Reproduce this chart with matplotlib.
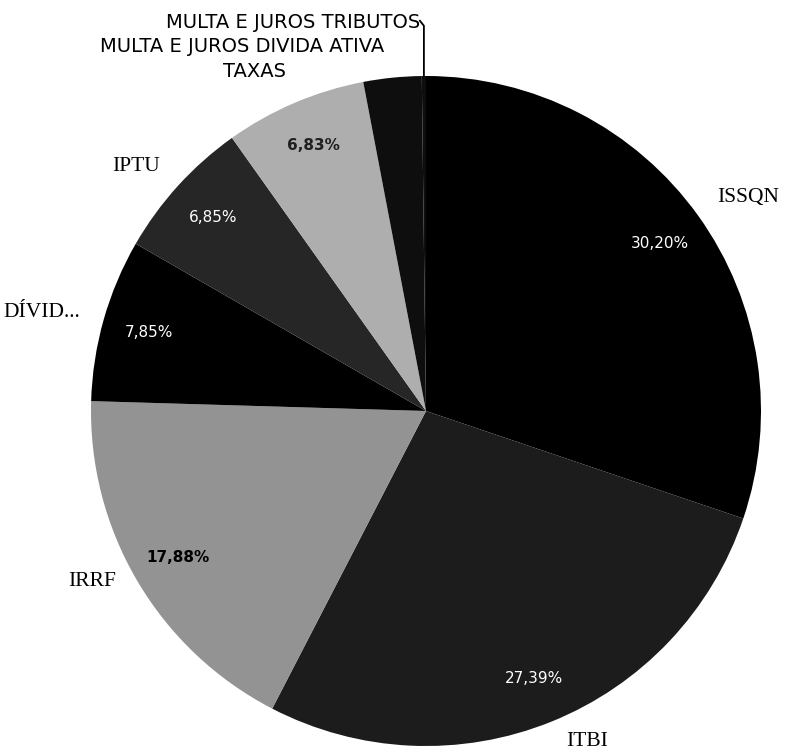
import numpy as np
import matplotlib
matplotlib.use('Agg')
import matplotlib.pyplot as plt

# slice data, clockwise from the top
labels = ['ISSQN', 'ITBI', 'IRRF', 'DÍVID...', 'IPTU', 'TAXAS',
          'MULTA E JUROS DIVIDA ATIVA', 'MULTA E JUROS TRIBUTOS']
values = [30.20, 27.39, 17.88, 7.85, 6.85, 6.83, 2.80, 0.20]
show_pct = [True, True, True, True, True, True, False, False]

# greys that stand in for the scanned dither
colors = ['#000000', '#1c1c1c', '#939393', '#000000', '#262626', '#aeaeae', '#0e0e0e', '#0e0e0e']
pct_colors = ['white', 'white', 'black', 'white', 'white', '#202020']

fig = plt.figure(figsize=(7.89, 7.56), dpi=100)
ax = fig.add_axes([0, 0, 1, 1])

wedges, _ = ax.pie(values, startangle=90, counterclock=False, colors=colors,
                   radius=1.0, wedgeprops=dict(linewidth=0))

# percentage labels inside the slices
for w, v, show, c in zip(wedges, values, show_pct, pct_colors + ['white', 'white']):
    if not show:
        continue
    ang = np.deg2rad((w.theta1 + w.theta2) / 2)
    txt = f'{v:.2f}%'.replace('.', ',')
    weight = 'bold' if c != 'white' else 'normal'
    ax.text(0.86 * np.cos(ang), 0.86 * np.sin(ang), txt, color=c, fontsize=11,
            ha='center', va='center', fontweight=weight, family='DejaVu Sans')

# outside labels (position in data units, alignment)
label_pos = {
    'ISSQN': (0.869, 0.636, 'left'),
    'ITBI': (0.418, -0.988, 'left'),
    'IRRF': (-0.925, -0.510, 'right'),
    'DÍVID...': (-1.033, 0.293, 'right'),
    'IPTU': (-0.794, 0.731, 'right'),
}
for name, (x, y, ha) in label_pos.items():
    ax.text(x, y, name, fontsize=15.5, family='Liberation Serif',
            ha=ha, va='center', color='black')

top_pos = {
    'TAXAS': (-0.513, 1.012, 'center'),
    'MULTA E JUROS DIVIDA ATIVA': (-0.549, 1.087, 'center'),
    'MULTA E JUROS TRIBUTOS': (-0.018, 1.161, 'right'),
}
for name, (x, y, ha) in top_pos.items():
    ax.text(x, y, name, fontsize=14, family='DejaVu Sans',
            ha=ha, va='center', color='black')

# leader line for the tiny slice
w = wedges[-1]
ang = np.deg2rad((w.theta1 + w.theta2) / 2)
ex, ey = np.cos(ang), np.sin(ang)
ax.plot([ex, ex, ex - 0.012], [ey, 1.15, 1.165], color='black', lw=1.3)

ax.set_xlim(-426 / 335, (789 - 426) / 335)
ax.set_ylim((411 - 756) / 335, 411 / 335)
ax.set_aspect('equal')
ax.axis('off')

fig.savefig('out.png', dpi=100, facecolor='white')
